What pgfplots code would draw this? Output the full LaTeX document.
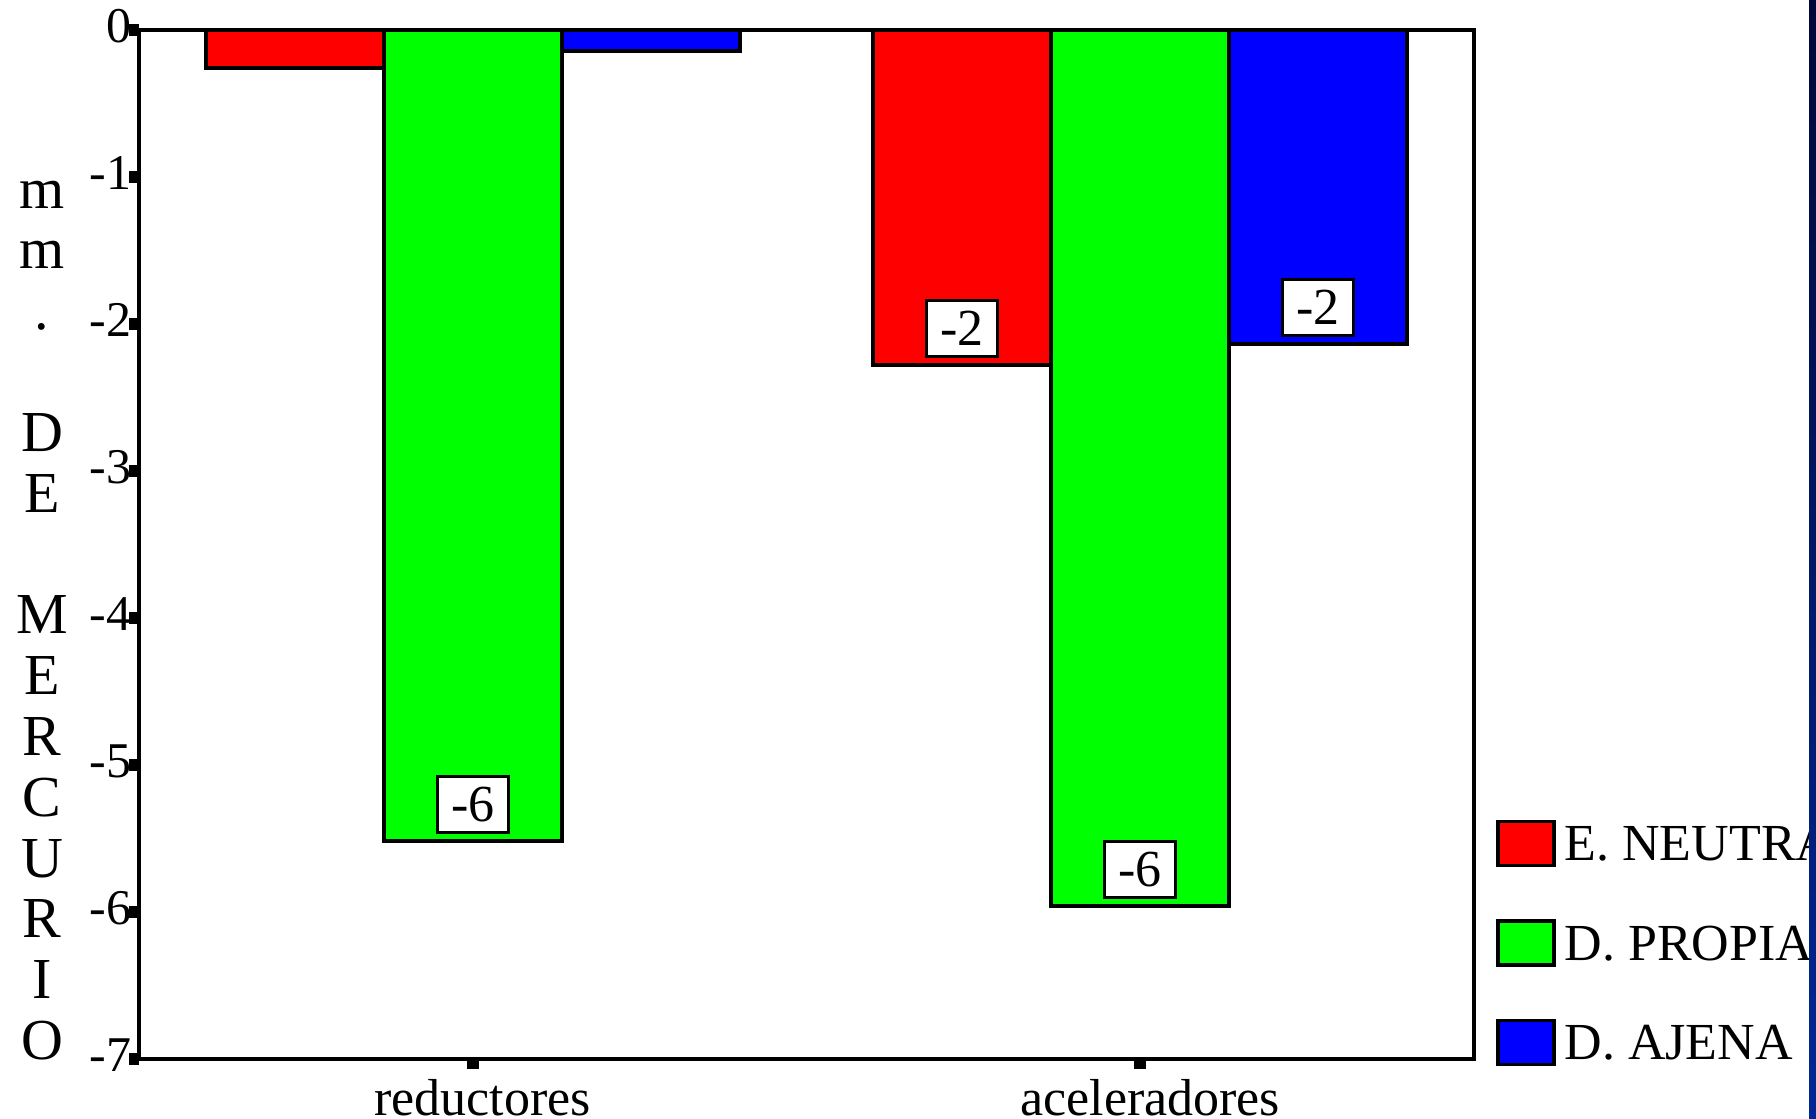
\documentclass[border=0pt]{standalone}
\usepackage{pgfplots}
\pgfplotsset{compat=1.18}
\usepackage{fontspec}
\setmainfont{Liberation Serif}
\definecolor{barred}{RGB}{255,0,0}
\definecolor{bargreen}{RGB}{0,255,0}
\definecolor{barblue}{RGB}{0,0,255}
\begin{document}
\begin{tikzpicture}
\begin{axis}[
  at={(34.75pt,14.75pt)}, anchor=south west,
  scale only axis, width=333.75pt, height=257.25pt,
  xmin=-0.5, xmax=1.5, ymin=-7, ymax=0,
  xtick={0,1}, xticklabels={reductores,aceleradores},
  ytick={-7,-6,-5,-4,-3,-2,-1,0},
  xtick pos=bottom, ytick pos=left,
  tick align=outside,
  major tick length=2.4pt,
  tick style={black, line width=3pt},
  axis line style={line width=1pt},
  /pgf/number format/assume math mode=true,
  yticklabel style={font=\fontsize{12.5}{14}\selectfont, inner sep=0pt, xshift=0.6pt, yshift=1pt},
  xticklabel style={font=\fontsize{13}{15}\selectfont, inner sep=0pt, yshift=-2.4pt, xshift=2.5pt},
  legend image code/.code={\draw[#1, line width=0.9pt] (0pt,-5.5pt) rectangle (14pt,5.5pt); \path (16.25pt,0pt);},
  legend style={at={(axis description cs:1.0165,0.1127)}, anchor=west, draw=none, fill=none, inner sep=0pt, outer sep=0pt, row sep=13pt, font=\fontsize{13}{15}\selectfont, nodes={inner sep=0pt, text depth=0pt}},
  legend cell align=left,
  axis on top,
]
\addplot[ybar, bar width=44.5pt, bar shift=-44.5pt, fill=barred, draw=black, line width=0.9pt]
  coordinates {(0,-0.26) (1,-2.28)};
\addlegendentry{E. NEUTRA}
\addplot[ybar, bar width=44.5pt, bar shift=0pt, fill=bargreen, draw=black, line width=0.9pt]
  coordinates {(0,-5.515) (1,-5.96)};
\addlegendentry{D. PROPIA}
\addplot[ybar, bar width=44.5pt, bar shift=44.5pt, fill=barblue, draw=black, line width=0.9pt]
  coordinates {(0,-0.143) (1,-2.135)};
\addlegendentry{D. AJENA}
\addplot[draw=none, mark=none, forget plot, point meta=explicit symbolic, nodes near coords,
  every node near coord/.append style={anchor=south, yshift=1.75pt, draw=black, fill=white, line width=0.75pt, inner sep=0pt, minimum width=17.75pt, minimum height=14pt, font=\fontsize{13}{15}\selectfont}]
  coordinates {(0,-5.515) [-6] (1,-5.96) [-6] (0.7333,-2.28) [-2] (1.2667,-2.135) [-2]};
\end{axis}
\node[align=center, font=\fontsize{14.5}{15.2}\selectfont, inner sep=0pt] at (10.5pt,124.4pt)
  {m\\m\\.\\~\\D\\E\\~\\M\\E\\R\\C\\U\\R\\I\\O};
\shade[top color={rgb,255:red,0;green,8;blue,56}, bottom color={rgb,255:red,0;green,40;blue,150}]
  (452.25pt,0pt) rectangle (455pt,279.5pt);
\pgfresetboundingbox
\useasboundingbox (0pt,0pt) rectangle (454pt,279.5pt);
\end{tikzpicture}
\end{document}
